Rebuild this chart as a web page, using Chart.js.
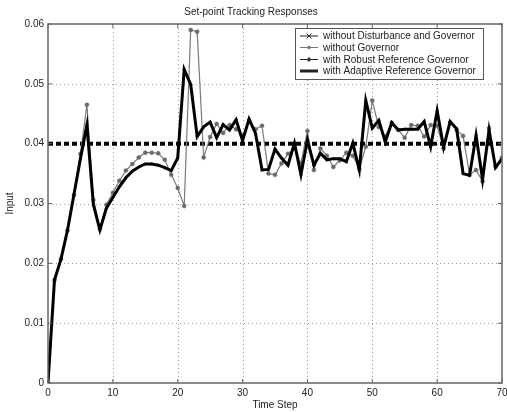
<!DOCTYPE html>
<html lang="en">
<head>
    <meta charset="UTF-8">
    <title>Set-point Tracking Responses</title>
    <script src="https://cdn.jsdelivr.net/npm/chart.js"></script>
    <style>
        html, body { margin: 0; padding: 0; background: #fff; }
        #wrap { width: 507px; height: 412px; }
    </style>
</head>
<body>
    <div id="wrap"><canvas id="myChart" width="507" height="412"></canvas></div>
    <script>
        // time axis
        const timeSteps = [];
        for (let t = 0; t <= 70; t++) timeSteps.push(t);

        const xTicks = [0, 10, 20, 30, 40, 50, 60, 70];
        const yTicks = [0, 0.01, 0.02, 0.03, 0.04, 0.05, 0.06];

        const seriesNames = [
            'without Disturbance and Governor',
            'without Governor',
            'with Robust Reference Governor',
            'with Adaptive Reference Governor'
        ];

        const noDisturbance = timeSteps.map(() => 0.04);

        const noGovernor = [
            0, 0.0172, 0.0207, 0.0255, 0.0314, 0.0383, 0.0465, 0.0306, 0.0258, 0.0298,
            0.0318, 0.0338, 0.0355, 0.0366, 0.0377, 0.0385, 0.0385, 0.0384, 0.0373, 0.0348,
            0.0326, 0.0296, 0.0590, 0.0587, 0.0377, 0.0411, 0.0433, 0.0418, 0.0431, 0.0424,
            0.0414, 0.0438, 0.0424, 0.0430, 0.0350, 0.0348, 0.0367, 0.0383, 0.0392, 0.0367,
            0.0421, 0.0356, 0.0392, 0.0380, 0.0361, 0.0372, 0.0385, 0.0380, 0.0358, 0.0395,
            0.0472, 0.0428, 0.0412, 0.0435, 0.0423, 0.0410, 0.0431, 0.0430, 0.0412, 0.0431,
            0.0430, 0.0392, 0.0435, 0.0423, 0.0413, 0.0348, 0.0356, 0.0337, 0.0426, 0.0362,
            0.0377
        ];

        const robustRG = [
            0, 0.0172, 0.0207, 0.0255, 0.0315, 0.0375, 0.0431, 0.0298, 0.0256, 0.0292,
            0.0310, 0.0328, 0.0343, 0.0354, 0.0361, 0.0366, 0.0366, 0.0364, 0.0360, 0.0355,
            0.0376, 0.0524, 0.0499, 0.0412, 0.0428, 0.0436, 0.0410, 0.0432, 0.0423, 0.0440,
            0.0405, 0.0441, 0.0417, 0.0356, 0.0357, 0.0391, 0.0376, 0.0364, 0.0401, 0.0348,
            0.0406, 0.0364, 0.0384, 0.0373, 0.0375, 0.0375, 0.0370, 0.0401, 0.0356, 0.0472,
            0.0426, 0.0439, 0.0403, 0.0435, 0.0423, 0.0424, 0.0424, 0.0424, 0.0437, 0.0395,
            0.0455, 0.0394, 0.0437, 0.0425, 0.0350, 0.0347, 0.0414, 0.0340, 0.0423, 0.0360,
            0.0375
        ];

        const adaptiveRG = [
            0, 0.0172, 0.0207, 0.0255, 0.0315, 0.0375, 0.0431, 0.0298, 0.0256, 0.0292,
            0.0310, 0.0328, 0.0343, 0.0354, 0.0361, 0.0366, 0.0366, 0.0364, 0.0360, 0.0355,
            0.0376, 0.0524, 0.0499, 0.0412, 0.0428, 0.0436, 0.0410, 0.0432, 0.0423, 0.0440,
            0.0405, 0.0441, 0.0417, 0.0356, 0.0357, 0.0391, 0.0376, 0.0364, 0.0401, 0.0348,
            0.0406, 0.0364, 0.0384, 0.0373, 0.0375, 0.0375, 0.0370, 0.0401, 0.0356, 0.0472,
            0.0426, 0.0439, 0.0403, 0.0435, 0.0423, 0.0424, 0.0424, 0.0424, 0.0437, 0.0395,
            0.0455, 0.0394, 0.0437, 0.0425, 0.0350, 0.0347, 0.0414, 0.0340, 0.0423, 0.0360,
            0.0375
        ];

        const FONT = '"Liberation Sans", Arial, sans-serif';
        const toPoints = (arr) => timeSteps.map((t, i) => ({ x: t, y: arr[i] }));

        // dotted grid, MATLAB style box, inward ticks and legend
        const matlabBox = {
            id: 'matlabBox',
            beforeDatasetsDraw(chart) {
                const { ctx, chartArea: a, scales } = chart;
                ctx.save();
                ctx.strokeStyle = '#999';
                ctx.lineWidth = 1;
                ctx.setLineDash([1, 3]);
                ctx.beginPath();
                xTicks.slice(1, -1).forEach(v => {
                    const x = Math.round(scales.x.getPixelForValue(v)) + 0.5;
                    ctx.moveTo(x, a.top); ctx.lineTo(x, a.bottom);
                });
                yTicks.slice(1, -1).forEach(v => {
                    const y = Math.round(scales.y.getPixelForValue(v)) + 0.5;
                    ctx.moveTo(a.left, y); ctx.lineTo(a.right, y);
                });
                ctx.stroke();
                ctx.restore();
            },
            afterDraw(chart) {
                const { ctx, chartArea: a, scales } = chart;
                ctx.save();
                ctx.strokeStyle = '#666';
                ctx.lineWidth = 1.5;
                ctx.strokeRect(a.left, a.top, a.right - a.left, a.bottom - a.top);

                ctx.lineWidth = 1;
                ctx.beginPath();
                xTicks.forEach(v => {
                    const x = scales.x.getPixelForValue(v);
                    ctx.moveTo(x, a.bottom); ctx.lineTo(x, a.bottom - 4);
                    ctx.moveTo(x, a.top); ctx.lineTo(x, a.top + 4);
                });
                yTicks.forEach(v => {
                    const y = scales.y.getPixelForValue(v);
                    ctx.moveTo(a.left, y); ctx.lineTo(a.left + 4, y);
                    ctx.moveTo(a.right, y); ctx.lineTo(a.right - 4, y);
                });
                ctx.stroke();

                // legend
                const lx = 295, ly = 28, lw = 188, lh = 51;
                ctx.fillStyle = '#fff';
                ctx.fillRect(lx, ly, lw, lh);
                ctx.strokeStyle = '#555';
                ctx.lineWidth = 1;
                ctx.strokeRect(lx + 0.5, ly + 0.5, lw, lh);

                const rows = [36, 47.5, 59.5, 71];
                ctx.font = '10px ' + FONT;
                ctx.textBaseline = 'middle';
                rows.forEach((ry, i) => {
                    const x0 = 300, x1 = 318, xm = 309;
                    ctx.beginPath();
                    ctx.moveTo(x0, ry); ctx.lineTo(x1, ry);
                    ctx.strokeStyle = i === 1 ? '#777' : '#222';
                    ctx.lineWidth = i === 3 ? 3 : 1;
                    ctx.stroke();
                    if (i === 0) {
                        ctx.beginPath();
                        ctx.moveTo(xm - 2.5, ry - 2.5); ctx.lineTo(xm + 2.5, ry + 2.5);
                        ctx.moveTo(xm - 2.5, ry + 2.5); ctx.lineTo(xm + 2.5, ry - 2.5);
                        ctx.stroke();
                    } else if (i === 1) {
                        ctx.beginPath();
                        ctx.arc(xm, ry, 1.8, 0, Math.PI * 2);
                        ctx.fillStyle = '#777';
                        ctx.fill();
                    } else if (i === 2) {
                        ctx.beginPath();
                        ctx.moveTo(xm, ry - 2.5); ctx.lineTo(xm + 2.5, ry);
                        ctx.lineTo(xm, ry + 2.5); ctx.lineTo(xm - 2.5, ry);
                        ctx.closePath();
                        ctx.fillStyle = '#333';
                        ctx.fill();
                    }
                    ctx.fillStyle = '#222';
                    ctx.fillText(seriesNames[i], 323, ry + 0.5);
                });
                ctx.restore();
            }
        };

        const ctx = document.getElementById('myChart').getContext('2d');
        const trackingChart = new Chart(ctx, {
            type: 'line',
            data: {
                datasets: [
                    {
                        label: seriesNames[3],
                        data: toPoints(adaptiveRG),
                        borderColor: '#000',
                        borderWidth: 3,
                        pointRadius: 0,
                        order: 0
                    },
                    {
                        label: seriesNames[2],
                        data: toPoints(robustRG),
                        borderColor: '#333',
                        borderWidth: 1,
                        pointStyle: 'rectRot',
                        pointRadius: 1.8,
                        pointBackgroundColor: '#333',
                        pointBorderWidth: 0,
                        order: 1
                    },
                    {
                        label: seriesNames[1],
                        data: toPoints(noGovernor),
                        borderColor: '#7a7a7a',
                        borderWidth: 1.2,
                        pointRadius: 2,
                        pointBackgroundColor: '#6a6a6a',
                        pointBorderColor: '#6a6a6a',
                        pointBorderWidth: 0.5,
                        order: 2
                    },
                    {
                        label: seriesNames[0],
                        data: toPoints(noDisturbance),
                        borderColor: '#000',
                        borderWidth: 4,
                        borderDash: [5, 3],
                        pointRadius: 0,
                        order: 3
                    }
                ]
            },
            options: {
                responsive: false,
                animation: false,
                devicePixelRatio: 1,
                layout: { padding: { top: 0, right: 5, left: 0, bottom: 0 } },
                plugins: {
                    legend: { display: false },
                    tooltip: { enabled: false },
                    title: {
                        display: true,
                        text: 'Set-point Tracking Responses',
                        color: '#222',
                        font: { family: FONT, size: 10, weight: 'normal' },
                        padding: { top: 6, bottom: 6 }
                    }
                },
                scales: {
                    x: {
                        type: 'linear',
                        min: 0,
                        max: 70,
                        afterFit: (s) => { s.height = 29; s.paddingLeft = 0; s.paddingRight = 0; },
                        afterBuildTicks: (s) => { s.ticks = xTicks.map(v => ({ value: v })); },
                        ticks: { color: '#222', padding: 4, font: { family: FONT, size: 10 }, maxRotation: 0 },
                        grid: { display: false, drawTicks: false },
                        border: { display: false },
                        title: {
                            display: true,
                            text: 'Time Step',
                            color: '#222',
                            font: { family: FONT, size: 10 },
                            padding: { top: 0, bottom: 1 }
                        }
                    },
                    y: {
                        min: 0,
                        max: 0.06,
                        afterFit: (s) => { s.width = 48; s.paddingTop = 0; s.paddingBottom = 0; },
                        afterBuildTicks: (s) => { s.ticks = yTicks.map(v => ({ value: v })); },
                        ticks: {
                            color: '#222',
                            padding: 4,
                            font: { family: FONT, size: 10 },
                            callback: (v) => v === 0 ? '0' : v.toFixed(2)
                        },
                        grid: { display: false, drawTicks: false },
                        border: { display: false },
                        title: {
                            display: true,
                            text: 'Input',
                            color: '#222',
                            font: { family: FONT, size: 10 },
                            padding: { top: 4, bottom: 0 }
                        }
                    }
                }
            },
            plugins: [matlabBox]
        });
    </script>
</body>
</html>
